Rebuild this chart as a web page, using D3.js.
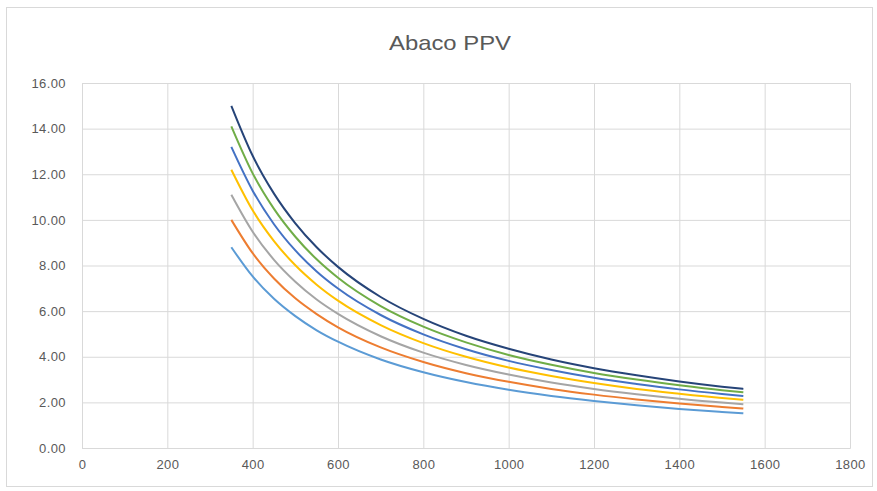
<!DOCTYPE html>
<html>
<head>
<meta charset="utf-8">
<script src="https://cdn.jsdelivr.net/npm/d3@7"></script>
<style>
  html, body { margin: 0; padding: 0; background: #fff; }
  svg { display: block; }
  text { font-family: "Liberation Sans", Arial, sans-serif; fill: #595959; }
</style>
</head>
<body>
<svg id="chart" width="877" height="491"></svg>
<script>
const title = "Abaco PPV";
const xValues = [350, 400, 450, 500, 550, 600, 700, 800, 900, 1000, 1100, 1200, 1300, 1400, 1500, 1550];
const series1 = [8.80, 7.52, 6.54, 5.78, 5.16, 4.66, 3.88, 3.32, 2.89, 2.55, 2.28, 2.06, 1.87, 1.71, 1.58, 1.52];
const series2 = [10.00, 8.54, 7.43, 6.56, 5.87, 5.29, 4.41, 3.77, 3.28, 2.90, 2.59, 2.34, 2.13, 1.95, 1.80, 1.73];
const series3 = [11.10, 9.48, 8.25, 7.29, 6.51, 5.88, 4.90, 4.18, 3.64, 3.22, 2.87, 2.59, 2.36, 2.16, 1.99, 1.92];
const series4 = [12.20, 10.42, 9.07, 8.01, 7.16, 6.46, 5.39, 4.60, 4.00, 3.53, 3.16, 2.85, 2.59, 2.38, 2.19, 2.11];
const series5 = [13.20, 11.28, 9.81, 8.66, 7.74, 6.99, 5.83, 4.98, 4.33, 3.82, 3.42, 3.08, 2.81, 2.57, 2.37, 2.28];
const series6 = [14.10, 12.04, 10.48, 9.26, 8.27, 7.46, 6.22, 5.32, 4.63, 4.08, 3.65, 3.29, 3.00, 2.75, 2.53, 2.44];
const series7 = [15.00, 12.81, 11.15, 9.85, 8.80, 7.94, 6.62, 5.66, 4.92, 4.35, 3.88, 3.50, 3.19, 2.92, 2.69, 2.59];
const xTicks = [0, 200, 400, 600, 800, 1000, 1200, 1400, 1600, 1800];
const yTicks = [0, 2, 4, 6, 8, 10, 12, 14, 16];

const allSeries = [series1, series2, series3, series4, series5, series6, series7];
const colors = ["#5B9BD5", "#ED7D31", "#A5A5A5", "#FFC000", "#4472C4", "#70AD47", "#264478"];

const svg = d3.select("#chart");
const W = 877, H = 491;
const m = { left: 82, right: 27, top: 83, bottom: 43 };

// outer chart border
svg.append("rect").attr("x", 6.5).attr("y", 7.5).attr("width", W - 11).attr("height", H - 12)
  .attr("fill", "#fff").attr("stroke", "#d9d9d9").attr("stroke-width", 1);

const x = d3.scaleLinear().domain([0, 1800]).range([m.left, W - m.right]);
const y = d3.scaleLinear().domain([0, 16]).range([H - m.bottom, m.top]);

// horizontal gridlines
const gy = svg.append("g").attr("transform", `translate(${m.left},0)`)
  .call(d3.axisLeft(y).tickValues(yTicks).tickSize(-(W - m.right - m.left)).tickFormat(d => d3.format(".2f")(d)).tickPadding(16));
gy.select(".domain").remove();
gy.selectAll(".tick line").attr("stroke", "#d9d9d9");
gy.selectAll(".tick text").style("font-size", "13px").style("letter-spacing", "0.4px").attr("fill", "#595959");

// vertical gridlines
const gx = svg.append("g").attr("transform", `translate(0,${H - m.bottom})`)
  .call(d3.axisBottom(x).tickValues(xTicks).tickSize(-(H - m.bottom - m.top)).tickFormat(d => String(d)).tickPadding(12));
gx.select(".domain").attr("stroke", "#d9d9d9");
gx.selectAll(".tick line").attr("stroke", "#d9d9d9");
gx.selectAll(".tick text").style("font-size", "13px").style("letter-spacing", "0.4px").attr("fill", "#595959");

// lines
const line = d3.line().x((d, i) => x(xValues[i])).y(d => y(d)).curve(d3.curveMonotoneX);
allSeries.forEach((s, k) => {
  svg.append("path").datum(s).attr("d", line).attr("fill", "none")
    .attr("stroke", colors[k]).attr("stroke-width", 2).attr("stroke-linejoin", "round");
});

// title
svg.append("text").attr("x", 450).attr("y", 50).attr("text-anchor", "middle")
  .style("font-size", "21px").attr("textLength", 122).attr("lengthAdjust", "spacingAndGlyphs")
  .attr("fill", "#595959").text(title);
</script>
</body>
</html>
